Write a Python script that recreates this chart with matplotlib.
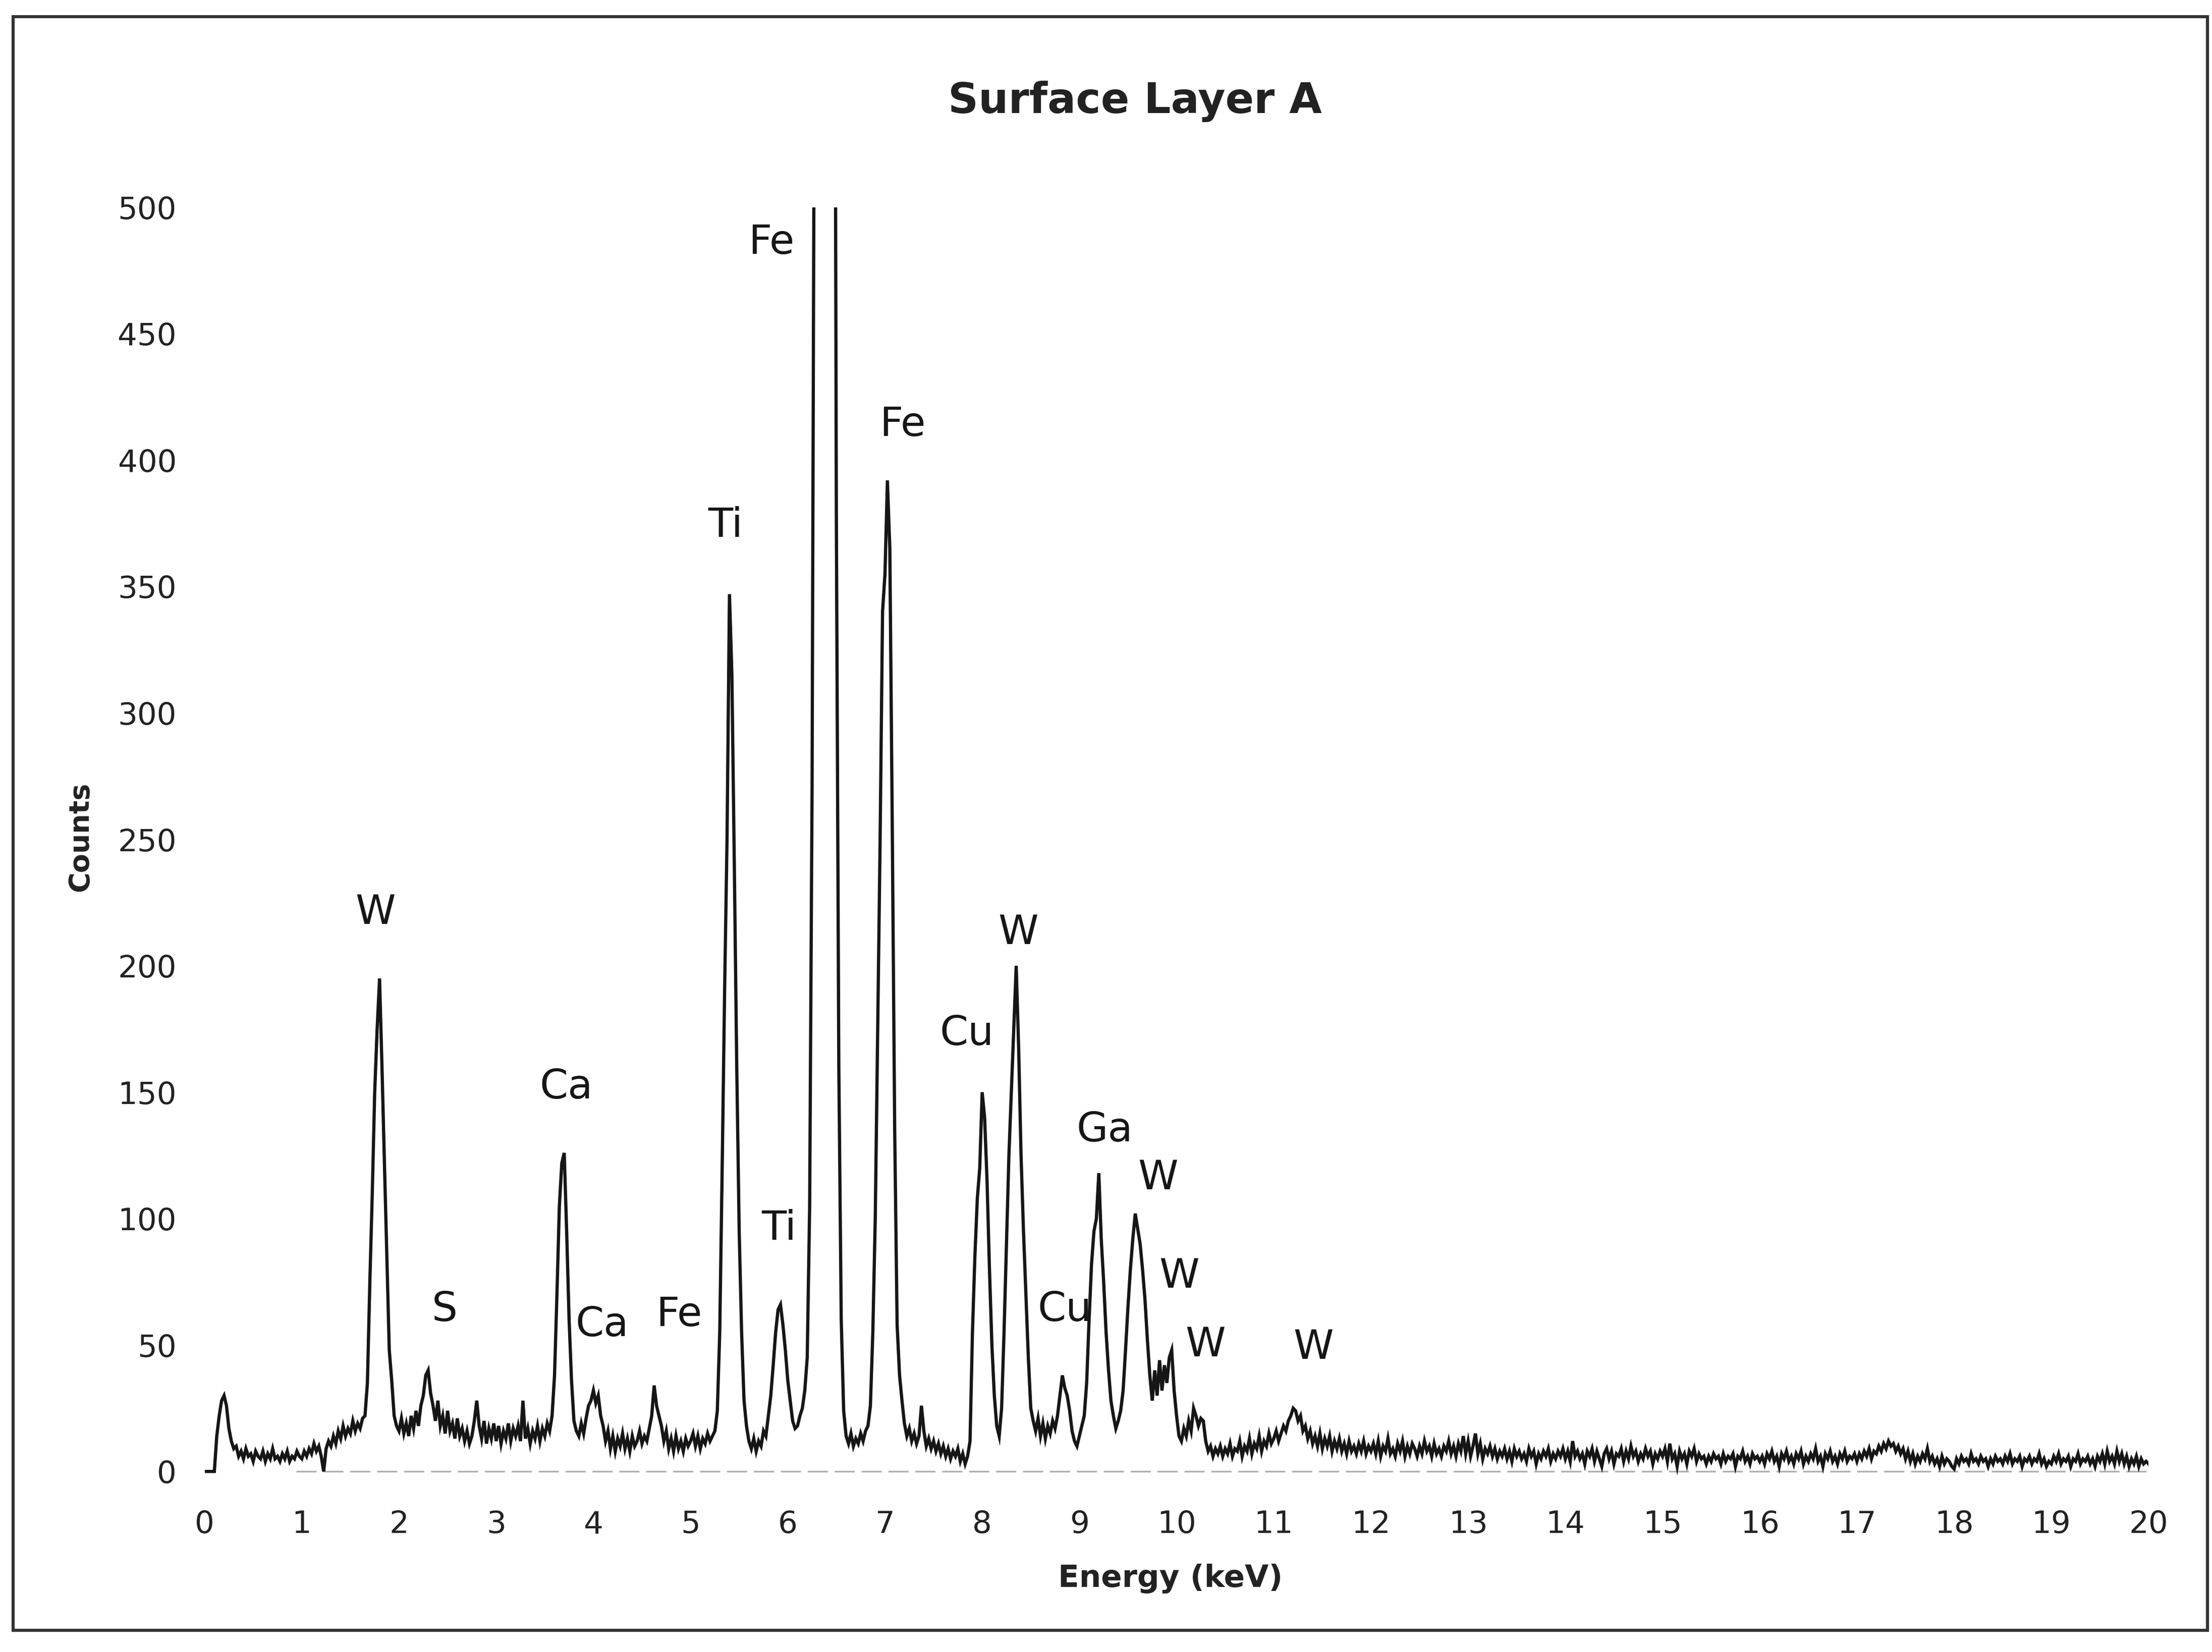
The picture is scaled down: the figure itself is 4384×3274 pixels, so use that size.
import numpy as np
import matplotlib
matplotlib.use('Agg')
import matplotlib.pyplot as plt
from matplotlib.patches import Rectangle

# spectrum, one value every 0.025 keV (two rows per keV)
step_kev = 0.025
counts = [
    0, 0, 0, 0, 0, 14, 22, 28, 30, 26, 17, 12, 9, 10, 6, 8, 5, 9, 6, 7,
    4, 8, 6, 5, 8, 4, 7, 5, 9, 5, 6, 4, 7, 5, 8, 4, 6, 5, 8, 6,
    5, 8, 6, 9, 7, 11, 8, 10, 6, 0, 9, 12, 10, 14, 11, 16, 13, 18, 14, 17,
    15, 20, 16, 19, 17, 21, 22, 35, 75, 110, 150, 175, 195, 160, 122, 85, 48, 36, 22, 18,
    16, 21, 15, 19, 14, 22, 17, 24, 18, 26, 30, 38, 40, 31, 26, 20, 28, 18, 22, 15,
    24, 16, 19, 13, 21, 14, 17, 12, 16, 11, 14, 20, 28, 18, 13, 20, 11, 17, 13, 19,
    12, 18, 11, 16, 13, 19, 12, 17, 14, 18, 12, 28, 13, 17, 11, 16, 13, 18, 12, 17,
    14, 19, 16, 22, 38, 70, 105, 122, 126, 95, 60, 36, 20, 16, 14, 19, 15, 21, 26, 28,
    32, 27, 30, 22, 18, 12, 16, 9, 14, 8, 13, 10, 15, 9, 13, 8, 14, 10, 12, 16,
    11, 14, 12, 17, 22, 34, 26, 22, 18, 12, 16, 9, 13, 8, 14, 9, 12, 8, 13, 10,
    12, 15, 10, 14, 9, 13, 11, 15, 12, 14, 16, 24, 55, 120, 190, 250, 347, 315, 240, 160,
    95, 55, 28, 18, 12, 9, 13, 8, 12, 10, 16, 14, 22, 30, 42, 55, 64, 66, 58, 48,
    36, 28, 20, 17, 18, 22, 25, 32, 45, 105, 270, 590, 1090, 1710, 2280, 2560, 2440, 1960, 1330, 765,
    375, 160, 60, 24, 14, 11, 15, 10, 13, 11, 15, 12, 16, 18, 26, 55, 100, 175, 250, 340,
    355, 392, 365, 255, 135, 58, 38, 28, 19, 14, 17, 12, 15, 11, 14, 26, 16, 10, 13, 9,
    12, 8, 11, 7, 10, 6, 9, 5, 8, 6, 9, 4, 7, 3, 6, 12, 55, 85, 108, 120,
    150, 140, 115, 80, 50, 30, 18, 14, 25, 55, 90, 125, 150, 175, 200, 168, 125, 95, 70, 45,
    25, 20, 16, 21, 14, 19, 13, 18, 15, 20, 17, 22, 30, 38, 33, 30, 24, 16, 12, 10,
    14, 18, 22, 35, 60, 82, 95, 100, 118, 92, 75, 55, 40, 28, 22, 17, 20, 24, 32, 48,
    65, 80, 92, 102, 96, 90, 80, 68, 52, 38, 28, 40, 30, 44, 32, 42, 35, 45, 48, 32,
    22, 14, 12, 17, 14, 20, 16, 25, 22, 18, 21, 20, 12, 8, 10, 6, 9, 7, 10, 6,
    9, 7, 11, 6, 9, 8, 12, 6, 10, 8, 13, 7, 11, 9, 14, 8, 12, 10, 15, 11,
    13, 16, 12, 15, 18, 16, 20, 22, 25, 24, 20, 22, 16, 18, 13, 16, 11, 14, 10, 15,
    9, 13, 10, 14, 8, 12, 9, 13, 8, 11, 7, 12, 8, 10, 7, 11, 8, 12, 7, 10,
    8, 11, 7, 12, 6, 10, 8, 13, 7, 9, 6, 11, 8, 12, 6, 10, 7, 11, 9, 6,
    10, 7, 12, 8, 10, 6, 11, 7, 9, 6, 10, 8, 12, 7, 10, 6, 11, 8, 14, 7,
    12, 6, 10, 15, 7, 11, 5, 9, 7, 10, 6, 9, 5, 8, 6, 9, 5, 8, 4, 9,
    6, 8, 5, 7, 4, 9, 6, 8, 3, 7, 5, 8, 6, 9, 4, 7, 5, 8, 6, 9,
    5, 8, 4, 12, 6, 8, 5, 7, 3, 8, 6, 9, 4, 8, 5, 2, 7, 9, 5, 8,
    3, 7, 6, 9, 4, 8, 5, 10, 6, 8, 4, 7, 5, 9, 6, 8, 3, 7, 5, 8,
    6, 9, 4, 11, 5, 7, 2, 8, 5, 7, 3, 8, 6, 9, 4, 7, 5, 6, 3, 6,
    4, 7, 5, 6, 3, 7, 4, 6, 5, 7, 2, 6, 5, 8, 4, 6, 3, 7, 5, 6,
    4, 6, 3, 7, 5, 8, 4, 6, 2, 7, 5, 8, 4, 6, 3, 7, 5, 8, 3, 6,
    4, 7, 5, 9, 4, 6, 2, 7, 5, 8, 4, 6, 3, 7, 5, 8, 4, 6, 5, 7,
    4, 7, 5, 8, 6, 9, 5, 8, 7, 10, 8, 11, 9, 12, 10, 11, 8, 10, 7, 9,
    5, 8, 4, 7, 3, 6, 4, 7, 5, 9, 4, 6, 3, 5, 2, 6, 3, 5, 4, 2,
    1, 5, 3, 6, 4, 5, 3, 7, 4, 5, 3, 6, 4, 5, 2, 5, 3, 6, 4, 5,
    3, 6, 4, 7, 3, 5, 4, 6, 2, 5, 4, 6, 3, 5, 4, 7, 3, 5, 2, 4,
    3, 6, 4, 7, 3, 5, 4, 6, 2, 5, 4, 7, 3, 5, 4, 6, 3, 5, 2, 6,
    4, 7, 3, 8, 4, 6, 3, 8, 4, 7, 3, 6, 2, 5, 3, 6, 2, 5, 3, 4,
    3,
]
energy = np.arange(len(counts)) * step_kev

# element labels (keV, counts)
peak_names = ['W', 'S', 'Ca', 'Ca', 'Fe', 'Ti', 'Fe', 'Ti', 'Fe', 'Cu', 'W', 'Cu', 'Ga', 'W', 'W', 'W', 'W']
peak_x = [1.76, 2.47, 3.72, 4.09, 4.88, 5.36, 5.83, 5.91, 7.18, 7.84, 8.37, 8.85, 9.26, 9.81, 10.03, 10.30, 11.41]
peak_y = [221, 64, 152, 58, 62, 374, 486, 96, 414, 173, 213, 64, 135, 116, 77, 50, 49]

x_ticks = list(range(0, 21))
y_ticks = list(range(0, 501, 50))

fig = plt.figure(figsize=(21.92, 16.37), dpi=200)
ax = fig.add_axes([0.0925, 0.1047, 0.8788, 0.7698])

ax.plot(energy, counts, color='#161616', lw=2.3, solid_joinstyle='miter')
ax.axhline(0, xmin=0.047, color='#b0b0b0', lw=1.2, ls=(0, (12, 4)), zorder=1)   # faint axis line

ax.set_xlim(0, 20)
ax.set_ylim(-3, 500)
ax.set_xticks(x_ticks)
ax.set_yticks(y_ticks)
ax.tick_params(length=0, labelsize=22, colors='#222222')
ax.tick_params(axis='x', pad=22)
ax.tick_params(axis='y', pad=20)
for s in ax.spines.values():
    s.set_visible(False)

for name, x, y in zip(peak_names, peak_x, peak_y):
    ax.text(x, y, name, fontsize=29, ha='center', va='center', color='#161616')

fig.text(0.513, 0.9385, 'Surface Layer A', fontsize=30, fontweight='bold', ha='center', va='center', color='#222222')
fig.text(0.529, 0.0444, 'Energy (keV)', fontsize=22, fontweight='bold', ha='center', va='center', color='#222222')
fig.text(0.0364, 0.4936, 'Counts', fontsize=20, fontweight='bold', rotation=90, ha='center', va='center', color='#222222')

# outer frame
fig.add_artist(Rectangle((0.006, 0.013), 0.992, 0.977, transform=fig.transFigure,
                         fill=False, lw=2.2, ec='#333333'))

fig.savefig('out.png', dpi=200)
